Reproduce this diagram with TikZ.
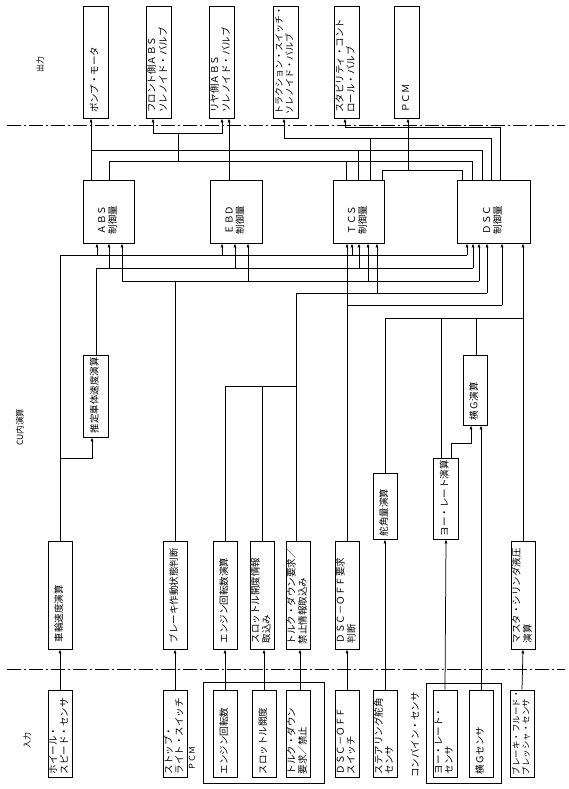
\documentclass[tikz,border=0pt]{standalone}
\usepackage{fontspec}
\newfontfamily\jp{Noto Sans CJK JP}
\usetikzlibrary{arrows.meta}
\newcommand{\rtx}[2]{\rotatebox{90}{\makebox[#1][l]{\begin{tabular}{@{}l@{}}#2\end{tabular}}}}
\newcommand{\busup}[3]{\draw[arr] (#1,#2) -- (#1,0 |- #3.south);}
\begin{document}
\begin{tikzpicture}[x=1pt,y=-1pt,font=\jp\fontsize{9.5pt}{10.5pt}\selectfont,
  bx/.style={draw,line width=0.9pt,inner sep=0pt},
  ln/.style={line width=0.75pt},
  arr/.style={ln,-{Latex[length=4pt,width=3.2pt]}},
  dd/.style={line width=0.8pt,dash pattern=on 14pt off 3pt on 2pt off 3pt},
  lbl/.style={rotate=90,inner sep=0pt}]
\fill[white] (0,0) rectangle (569,789);
\useasboundingbox (0,0) rectangle (569,789);

% section labels
\node[lbl,font=\jp\fontsize{8pt}{9pt}\selectfont] (lout) at (40,65) {出力};
\node[lbl,font=\jp\fontsize{8.5pt}{9pt}\selectfont] (lcu) at (20,427) {CU内演算};
\node[lbl,font=\jp\fontsize{8pt}{9pt}\selectfont] (lin) at (27,740) {入力};

% dash-dot separators
\draw[dd] (7,125) -- (565,125);
\draw[dd] (7,669) -- (565,669);

% outputs
\node[bx,minimum width=25pt,minimum height=112pt] (o1) at (95.5,62) {\rtx{102pt}{ポンプ・モータ}};
\node[bx,minimum width=25pt,minimum height=112pt] (o2) at (158.5,62) {\rtx{102pt}{フロント側ＡＢＳ\\ソレノイド・バルブ}};
\node[bx,minimum width=25pt,minimum height=112pt] (o3) at (221.5,62) {\rtx{102pt}{リヤ側ＡＢＳ\\ソレノイド・バルブ}};
\node[bx,minimum width=25pt,minimum height=112pt] (o4) at (285.5,62) {\fontsize{9pt}{10pt}\selectfont\rtx{106pt}{トラクション・スイッチ・\\ソレノイド・バルブ}};
\node[bx,minimum width=25pt,minimum height=112pt] (o5) at (346.5,62) {\rtx{102pt}{スタビリティ・コント\\ロール・バルブ}};
\node[bx,minimum width=25pt,minimum height=112pt] (o6) at (407,62) {\rtx{102pt}{ＰＣＭ}};

% control quantities
\node[bx,minimum width=51pt,minimum height=63pt] (abs) at (108.5,211.5) {\rtx{45pt}{ＡＢＳ\\制御量}};
\node[bx,minimum width=52pt,minimum height=63pt] (ebd) at (236,211.5) {\rtx{45pt}{ＥＢＤ\\制御量}};
\node[bx,minimum width=51pt,minimum height=63pt] (tcs) at (358.5,211.5) {\rtx{45pt}{ＴＣＳ\\制御量}};
\node[bx,minimum width=73pt,minimum height=63pt] (dsc) at (493.5,211.5) {\rtx{45pt}{ＤＳＣ\\制御量}};

% computations
\node[bx,minimum width=24pt,minimum height=108pt] (c_ws) at (60,595) {\rtx{94pt}{車輪速度演算}};
\node[bx,minimum width=25pt,minimum height=82pt] (c_est) at (95.5,396) {\rtx{74pt}{推定車体速度演算}};
\node[bx,minimum width=24pt,minimum height=108pt] (c_br) at (175,595) {\rtx{96pt}{ブレーキ作動状態判断}};
\node[bx,minimum width=24pt,minimum height=108pt] (c_en) at (225,595) {\rtx{96pt}{エンジン回転数演算}};
\node[bx,minimum width=24pt,minimum height=108pt] (c_th) at (262,595) {\rtx{96pt}{スロットル開度情報\\取込み}};
\node[bx,minimum width=24pt,minimum height=108pt] (c_tq) at (298,595) {\rtx{98pt}{トルク・ダウン要求／\\禁止情報取込み}};
\node[bx,minimum width=24pt,minimum height=108pt] (c_off) at (347,595) {\rtx{96pt}{ＤＳＣ－ＯＦＦ要求\\判断}};
\node[bx,minimum width=24pt,minimum height=66pt] (c_st) at (385,506) {\rtx{60pt}{舵角量演算}};
\node[bx,minimum width=25pt,minimum height=81pt] (c_yaw) at (445.5,498.5) {\rtx{75pt}{ヨー・レート演算}};
\node[bx,minimum width=24pt,minimum height=70pt] (c_lat) at (475,390) {\rtx{60pt}{横Ｇ演算}};
\node[bx,minimum width=24pt,minimum height=108pt] (c_mc) at (523,595) {\rtx{96pt}{マスタ・シリンダ液圧\\演算}};

% input groups
\node[draw,line width=0.8pt,inner sep=0pt,minimum width=121pt,minimum height=101pt] (gpcm) at (263.5,732.5) {};
\node[draw,line width=0.8pt,inner sep=0pt,minimum width=75pt,minimum height=100pt] (gcomb) at (463.5,733) {};
\node[lbl,font=\jp\fontsize{8pt}{9pt}\selectfont] (lpcm) at (192,758) {ＰＣＭ};
\node[lbl] (lcomb) at (415,735) {コンバイン・センサ};

% inputs
\node[bx,minimum width=24pt,minimum height=87pt] (i_ws) at (60,733.5) {\rtx{81pt}{ホイール・\\スピード・センサ}};
\node[bx,minimum width=24pt,minimum height=87pt] (i_br) at (175,733.5) {\rtx{81pt}{ストップ・\\ライト・スイッチ}};
\node[bx,minimum width=24pt,minimum height=87pt] (i_en) at (225,733.5) {\rtx{81pt}{エンジン回転数}};
\node[bx,minimum width=24pt,minimum height=87pt] (i_th) at (264,733.5) {\rtx{81pt}{スロットル開度}};
\node[bx,minimum width=24pt,minimum height=87pt] (i_tq) at (298,733.5) {\rtx{81pt}{トルク・ダウン\\要求／禁止}};
\node[bx,minimum width=24pt,minimum height=87pt] (i_off) at (347,733.5) {\rtx{81pt}{ＤＳＣ－ＯＦＦ\\スイッチ}};
\node[bx,minimum width=24pt,minimum height=87pt] (i_st) at (385,733.5) {\rtx{81pt}{ステアリング舵角\\センサ}};
\node[bx,minimum width=24pt,minimum height=87pt] (i_yaw) at (445,733.5) {\rtx{81pt}{ヨー・レート・\\センサ}};
\node[bx,minimum width=24pt,minimum height=87pt] (i_lat) at (481,733.5) {\rtx{81pt}{横Ｇセンサ}};
\node[bx,minimum width=24pt,minimum height=87pt] (i_mc) at (522,733.5) {\fontsize{8.5pt}{9.5pt}\selectfont\rtx{83pt}{ブレーキ・フルード・\\プレッシャ・センサ}};

% input -> computation
\draw[arr] (i_ws.north) -- (c_ws.south);
\draw[arr] (i_br.north) -- (c_br.south);
\draw[arr] (i_en.north) -- (c_en.south);
\draw[arr] (i_th.north) -- (i_th.north |- c_th.south);
\draw[arr] (300,0 |- i_tq.north) -- (300,0 |- c_tq.south);
\draw[arr] (i_off.north) -- (c_off.south);
\draw[arr] (i_st.north) -- (c_st.south);
\draw[arr] (i_yaw.north) -- (446,0 |- c_yaw.south);
\draw[arr] (i_lat.north) -- (i_lat.north |- c_lat.south);
\draw[arr] (i_mc.north) -- (c_mc.south);

% computation -> computation
\draw[arr] (60,458) -| (92,0 |- c_est.south);
\draw[arr] (451,0 |- c_yaw.north) |- (471,443) -- (471,0 |- c_lat.south);

% buses
\draw[ln] (c_ws.north) |- (467,255);
\draw[ln] (96,0 |- c_est.north) |- (473,268);
\draw[ln] (c_br.north) -- (175,281);
\draw[ln] (122,281) -- (479,281);
\draw[ln] (c_en.north) |- (296,386);
\draw[ln] (c_th.north) -- (262,386);
\draw[ln] (296,0 |- c_tq.north) |- (487,293);
\draw[arr] (c_off.north) -- (347,0 |- tcs.south);
\draw[ln] (347,305) -- (502,305);
\draw[ln] (c_st.north) |- (523,318);
\draw[ln] (441,0 |- c_yaw.north) -- (441,318);
\draw[ln] (476,0 |- c_lat.north) -- (476,318);
\draw[arr] (523,0 |- c_mc.north) -- (523,0 |- dsc.south);

% bus -> control arrows
\busup{97}{255}{abs} \busup{109}{268}{abs} \busup{122}{281}{abs}
\busup{222}{255}{ebd} \busup{235}{268}{ebd} \busup{248}{281}{ebd}
\busup{352}{255}{tcs} \busup{359}{268}{tcs} \busup{368}{281}{tcs} \busup{377}{293}{tcs}
\busup{467}{255}{dsc} \busup{473}{268}{dsc} \busup{479}{281}{dsc} \busup{487}{293}{dsc} \busup{502}{305}{dsc}

% control -> outputs
\draw[arr] (91,0 |- abs.north) -- (91,0 |- o1.south);
\draw[ln] (91,150) -- (482,150);
\draw[ln] (358,0 |- tcs.north) -- (358,150);
\draw[ln] (482,0 |- dsc.north) -- (482,150);
\draw[ln] (109,0 |- abs.north) |- (472,161) -- (472,0 |- dsc.north);
\draw[ln] (346,0 |- tcs.north) -- (346,161);
\draw[ln] (178,161) -- (178,133);
\draw[arr] (178,133) -| (153,0 |- o2.south);
\draw[arr] (178,133) -| (222,0 |- o3.south);
\draw[arr] (229,0 |- ebd.north) -- (229,0 |- o3.south);
\draw[arr] (491,0 |- dsc.north) |- (284,138) -- (284,0 |- o4.south);
\draw[ln] (370,0 |- tcs.north) -- (370,138);
\draw[arr] (500,0 |- dsc.north) |- (345,127) -- (345,0 |- o5.south);
\draw[ln] (382,0 |- tcs.north) |- (462,170) -- (462,0 |- dsc.north);
\draw[arr] (408,170) -- (408,0 |- o6.south);
\end{tikzpicture}
\end{document}
